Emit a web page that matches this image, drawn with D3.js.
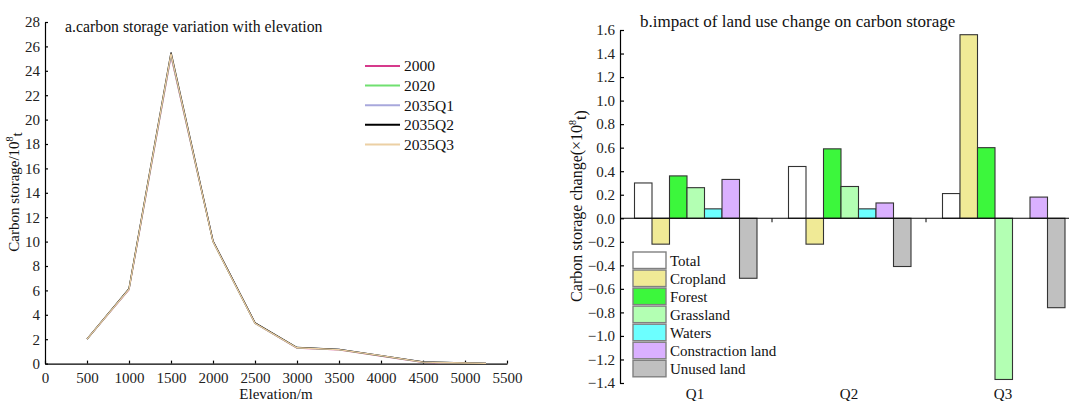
<!DOCTYPE html>
<html>
<head>
<meta charset="utf-8">
<script src="https://cdn.jsdelivr.net/npm/d3@7"></script>
<style>
	body { margin: 0; background: #fff; }
	svg { display: block; font-family: "Liberation Serif", "Times New Roman", serif; }
	.axis path, .axis line { stroke: #000; stroke-width: 1.2; }
	.axis text { fill: #222; }
</style>
</head>
<body>
<div class="c-svg"></div>
<script>
//DATA
//-------------------------------------------------------------------------

//chart a : elevation profile
const elevation = [500, 1000, 1500, 2000, 2500, 3000, 3500, 4000, 4500, 5000, 5250];
const years = ["2000", "2020", "2035Q1", "2035Q2", "2035Q3"];
const storage2000 = [2.0, 6.05, 25.2, 10.0, 3.3, 1.28, 1.12, 0.62, 0.10, 0.04, 0.02];
const storage2020 = [2.0, 6.10, 25.3, 10.0, 3.3, 1.30, 1.15, 0.64, 0.12, 0.05, 0.02];
const storage2035Q1 = [2.0, 6.10, 25.35, 10.05, 3.3, 1.30, 1.16, 0.66, 0.13, 0.05, 0.02];
const storage2035Q2 = [2.0, 6.15, 25.5, 10.05, 3.35, 1.32, 1.17, 0.66, 0.14, 0.05, 0.02];
const storage2035Q3 = [2.0, 6.10, 25.4, 10.0, 3.3, 1.30, 1.15, 0.65, 0.12, 0.05, 0.02];
const xTicksA = [0, 500, 1000, 1500, 2000, 2500, 3000, 3500, 4000, 4500, 5000, 5500];
const yTicksA = [0, 2, 4, 6, 8, 10, 12, 14, 16, 18, 20, 22, 24, 26, 28];

//chart b : land use change
const scenarios = ["Q1", "Q2", "Q3"];
const landTypes = ["Total", "Cropland", "Forest", "Grassland", "Waters", "Constraction land", "Unused land"];
const changeQ1 = [0.30, -0.22, 0.36, 0.26, 0.08, 0.33, -0.51];
const changeQ2 = [0.44, -0.22, 0.59, 0.27, 0.08, 0.13, -0.41];
const changeQ3 = [0.21, 1.56, 0.60, -1.37, 0, 0.18, -0.76];
const yTicksB = [-1.4, -1.2, -1.0, -0.8, -0.6, -0.4, -0.2, 0, 0.2, 0.4, 0.6, 0.8, 1.0, 1.2, 1.4, 1.6];

//colors
const lineColor = ["#d63a8c", "#70e070", "#a8a8dc", "#000000", "#ecd0a4"];
const barColor = ["#ffffff", "#f0ea96", "#3cf73c", "#b3ffb3", "#6cffff", "#dab0ff", "#c0c0c0"];


//INITIALISATION
//-------------------------------------------------------------------------
const opts = { width: 1069, height: 401 };
const serif = "'Liberation Serif', 'Times New Roman', serif";

const svg = d3.select(".c-svg")
	.append("svg")
	.attr("width", opts.width)
	.attr("height", opts.height);

//force serif font on axis labels (d3 axis puts sans-serif on the group)
function serifTicks(g) {
	g.attr("font-family", null);
	g.selectAll("text")
		.style("font-family", serif)
		.style("font-size", "15px");
}


//CHART A
//-------------------------------------------------------------------------
const xA = d3.scaleLinear().domain([0, 5500]).range([45, 507]);
const yA = d3.scaleLinear().domain([0, 28]).range([363.6, 22]);

const gA = svg.append("g").attr("id", "chart-a");

gA.append("g")
	.attr("class", "axis")
	.attr("transform", `translate(0 ${yA(0)})`)
	.call(d3.axisBottom(xA).tickValues(xTicksA).tickFormat(d3.format("d")).tickSize(-3).tickPadding(7).tickSizeOuter(0))
	.call(serifTicks)
	.selectAll("text").attr("dy", "0.85em");

gA.append("g")
	.attr("class", "axis")
	.attr("transform", `translate(${xA(0)} 0)`)
	.call(d3.axisLeft(yA).tickValues(yTicksA).tickSize(-3).tickPadding(5).tickSizeOuter(0))
	.call(serifTicks);

const seriesA = [storage2000, storage2020, storage2035Q1, storage2035Q2, storage2035Q3];
const line = d3.line()
	.x((d, i) => xA(elevation[i]))
	.y(d => yA(d));

gA.selectAll(".line")
	.data(seriesA)
	.join("path")
	.attr("class", "line")
	.attr("d", d => line(d))
	.attr("fill", "none")
	.attr("stroke", (d, i) => lineColor[i])
	.attr("stroke-width", 1.3);

//legend a
const legA = gA.append("g").attr("transform", "translate(365 66)");
years.forEach((name, i) => {
	const row = legA.append("g").attr("transform", `translate(0 ${i * 19.6})`);
	row.append("line")
		.attr("x1", 0).attr("x2", 35)
		.attr("stroke", lineColor[i]).attr("stroke-width", 2);
	row.append("text")
		.attr("x", 39).attr("dy", "0.35em")
		.attr("font-size", 15.5).attr("fill", "#111")
		.text(name);
});

gA.append("text")
	.attr("x", 65).attr("y", 32)
	.attr("font-size", 15.8).attr("fill", "#111")
	.text("a.carbon storage variation with elevation");

gA.append("text")
	.attr("x", xA(2750)).attr("y", 399)
	.attr("text-anchor", "middle")
	.attr("font-size", 15).attr("fill", "#111")
	.text("Elevation/m");

const yLabA = gA.append("text")
	.attr("transform", "translate(19 192) rotate(-90)")
	.attr("text-anchor", "middle")
	.attr("font-size", 15).attr("fill", "#111");
yLabA.append("tspan").text("Carbon storage/10");
yLabA.append("tspan").attr("font-size", 10).attr("dy", "-0.6em").text("8");
yLabA.append("tspan").attr("dy", "0.6em").text("t");


//CHART B
//-------------------------------------------------------------------------
const xB = d3.scaleBand().domain(scenarios).range([618, 1080]).padding(0);
const xInner = d3.scaleBand().domain(landTypes).range([16.5, 139]).padding(0);
const yB = d3.scaleLinear().domain([-1.4, 1.6]).range([383, 30]);

const gB = svg.append("g").attr("id", "chart-b");

const valuesB = [changeQ1, changeQ2, changeQ3];
const barData = [];
scenarios.forEach((s, i) => {
	landTypes.forEach((t, j) => {
		barData.push({ scenario: s, type: t, idx: j, value: valuesB[i][j] });
	});
});

gB.selectAll(".bar")
	.data(barData.filter(d => d.value !== 0))
	.join("rect")
	.attr("class", "bar")
	.attr("x", d => xB(d.scenario) + xInner(d.type))
	.attr("width", xInner.bandwidth())
	.attr("y", d => yB(Math.max(0, d.value)))
	.attr("height", d => Math.abs(yB(d.value) - yB(0)))
	.attr("fill", d => barColor[d.idx])
	.attr("stroke", "#333")
	.attr("stroke-width", 1.1);

//zero line with group separators
gB.append("line")
	.attr("x1", 620).attr("x2", opts.width)
	.attr("y1", yB(0)).attr("y2", yB(0))
	.attr("stroke", "#000").attr("stroke-width", 1.2);

gB.selectAll(".sep")
	.data(scenarios.slice(1))
	.join("line")
	.attr("class", "sep")
	.attr("x1", d => xB(d)).attr("x2", d => xB(d))
	.attr("y1", yB(0)).attr("y2", yB(0) + 4)
	.attr("stroke", "#000").attr("stroke-width", 1);

gB.append("g")
	.attr("class", "axis")
	.attr("transform", "translate(620 0)")
	.call(d3.axisLeft(yB).tickValues(yTicksB).tickFormat(d3.format(".1f")).tickSize(-4).tickPadding(5).tickSizeOuter(0))
	.call(serifTicks);

gB.selectAll(".xlab")
	.data(scenarios)
	.join("text")
	.attr("class", "xlab")
	.attr("x", d => xB(d) + xB.bandwidth() / 2)
	.attr("y", 399)
	.attr("text-anchor", "middle")
	.attr("font-size", 15).attr("fill", "#111")
	.text(d => d);

//legend b
const legB = gB.append("g").attr("transform", "translate(633 252)");
landTypes.forEach((name, i) => {
	const row = legB.append("g").attr("transform", `translate(0 ${i * 18.05})`);
	row.append("rect")
		.attr("width", 33).attr("height", 16.5)
		.attr("fill", barColor[i])
		.attr("stroke", "#808080").attr("stroke-width", 1.4);
	row.append("text")
		.attr("x", 37).attr("y", 8.5).attr("dy", "0.35em")
		.attr("font-size", 15).attr("fill", "#111")
		.text(name);
});

gB.append("text")
	.attr("x", 640).attr("y", 27)
	.attr("font-size", 17).attr("fill", "#111")
	.text("b.impact of land use change on carbon storage");

const yLabB = gB.append("text")
	.attr("transform", "translate(582 206) rotate(-90)")
	.attr("text-anchor", "middle")
	.attr("font-size", 16).attr("fill", "#111");
yLabB.append("tspan").text("Carbon storage change(×10");
yLabB.append("tspan").attr("font-size", 10).attr("dy", "-0.6em").text("8");
yLabB.append("tspan").attr("dy", "0.6em").text("t)");
</script>
</body>
</html>
